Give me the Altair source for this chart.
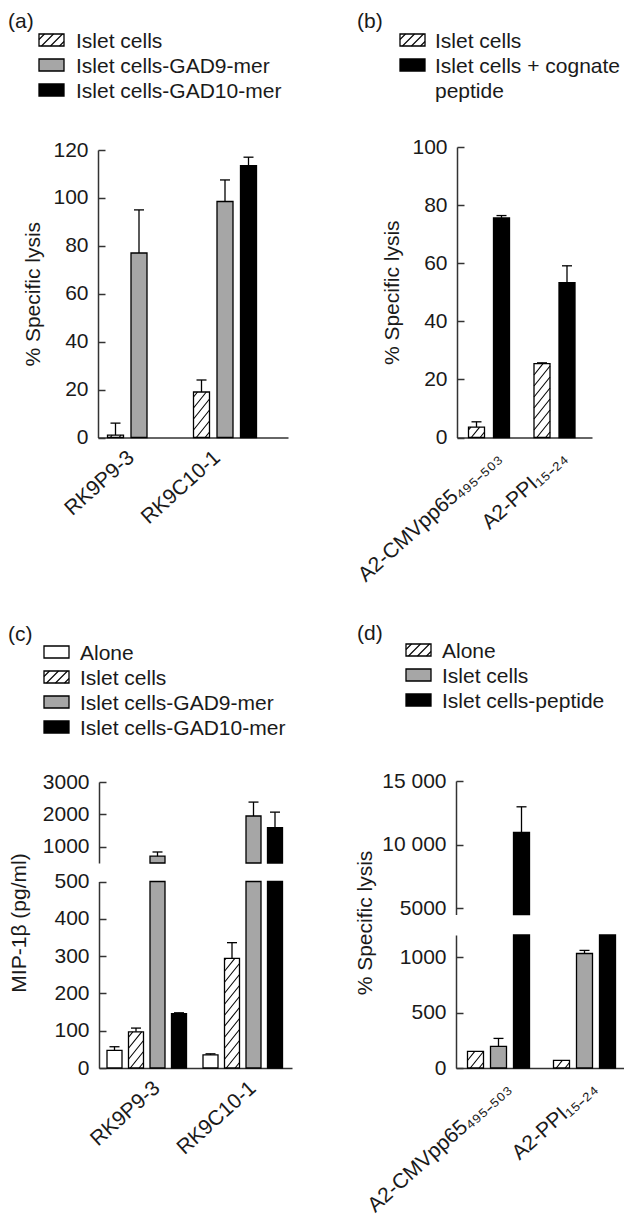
import json
import altair as alt
import pandas as pd

FONT = "Liberation Sans"
FS = 21
W, H = 616, 1212
M = 8  # page margin

# ---------------- data ----------------
a_groups = ["RK9P9-3", "RK9C10-1"]
a_series = ["Islet cells", "Islet cells-GAD9-mer", "Islet cells-GAD10-mer"]
a_values = [[1, 77, None], [19, 98.5, 113.5]]
a_errors = [[5, 18, None], [5, 9, 3.5]]

b_groups = ["A2-CMVpp65₄₉₅₋₅₀₃", "A2-PPI₁₅₋₂₄"]
b_series = ["Islet cells", "Islet cells + cognate peptide"]
b_values = [[3.6, 75.6], [25.4, 53.3]]
b_errors = [[1.8, 0.8], [0.3, 5.8]]

c_groups = ["RK9P9-3", "RK9C10-1"]
c_series = ["Alone", "Islet cells", "Islet cells-GAD9-mer", "Islet cells-GAD10-mer"]
c_values = [[47, 97, 710, 146], [35, 294, 1950, 1590]]
c_errors = [[10, 10, 130, 2], [3, 42, 430, 480]]

d_groups = ["A2-CMVpp65₄₉₅₋₅₀₃", "A2-PPI₁₅₋₂₄"]
d_series = ["Alone", "Islet cells", "Islet cells-peptide"]
d_values = [[150, 195, 10950], [68, 1033, 1250]]
d_errors = [[0, 72, 2020], [0, 28, 0]]

# ---------------- styles ----------------
a_kinds = ["hatch", "grey", "black"]
b_kinds = ["hatch", "black"]
c_kinds = ["white", "hatch", "grey", "black"]
d_kinds = ["hatch", "grey", "black"]

GREY = "#a6a6a6"
KIND_DOMAIN = ["hatch", "white", "grey", "black"]
KIND_RANGE = ["white", "white", GREY, "black"]
FILL = alt.Fill("kind:N", scale=alt.Scale(domain=KIND_DOMAIN, range=KIND_RANGE), legend=None)
INK = "#1a1a1a"
SW = 1.3
TICK = 7


def hatch(xl, xr, yb, yt, kx, ky, slope=1.25, step=11.0):
    """diagonal '/' lines clipped to a rectangle, returned in data units"""
    wp = (xr - xl) * kx
    hp = (yt - yb) * ky
    out = []
    c = -slope * wp + step * 0.5
    while c < hp:
        xa = max(0.0, -c / slope)
        xb = min(wp, (hp - c) / slope)
        if xb - xa > 0.4:
            out.append(dict(x=xl + xa / kx, x2=xl + xb / kx,
                            y=yb + (slope * xa + c) / ky, y2=yb + (slope * xb + c) / ky))
        c += step
    return out


layers = []


def add_panel(groups, series, kinds, values, errors, lay, segs, label_offset):
    first, slot, gstep, bw, ax0, ax1 = lay
    cap = 5.0
    rows = []
    for gi, g in enumerate(groups):
        for si, s in enumerate(series):
            v = values[gi][si]
            if v is None:
                continue
            e = errors[gi][si] or 0
            pos = gi * gstep + si * slot
            rows.append(dict(group=g, series=s, kind=kinds[si], value=v, err=e, top=v + e,
                             pos=pos, xl=pos - bw / 2, xr=pos + bw / 2, cl=pos - cap, cr=pos + cap))
    df = pd.DataFrame(rows)
    n = len(series)
    centers = [gi * gstep + (n - 1) / 2 * slot for gi in range(len(groups))]
    label_expr = json.dumps(groups, ensure_ascii=False) + f"[floor(datum.value / {gstep} + 0.01)]"

    for seg in segs:
        lo, hi = seg["domain"]
        plo, phi = seg["px"]
        ky = (plo - phi) / (hi - lo)
        xs = alt.Scale(domain=[ax0 - first, ax1 - first], range=[ax0 - M, ax1 - M], nice=False, zero=False)
        ys = alt.Scale(domain=[lo, hi], range=[plo - M, phi - M], clamp=True, nice=False, zero=False)
        if seg["x_axis"]:
            xaxis = alt.Axis(orient="bottom", offset=(plo - M) - H, values=centers, labelExpr=label_expr,
                             ticks=False, labelAngle=-42, labelAlign="right", labelBaseline="middle",
                             labelPadding=17, labelOffset=label_offset, labelLimit=0, title=None, grid=False)
        else:
            xaxis = None
        # axis line at the panel's left edge
        line_axis = alt.Axis(orient="left", offset=-(ax0 - M), values=seg["ticks"], title=None,
                             labels=False, ticks=False, domain=True, grid=False)
        # ticks pointing inwards + labels
        tick_axis = alt.Axis(orient="left", offset=-(ax0 + TICK - M), values=seg["ticks"],
                             title=seg.get("title"), domain=False, tickSize=TICK, labelPadding=10,
                             labelExpr=seg.get("fmt", "format(datum.value, 'd')"), grid=False,
                             titlePadding=seg.get("tpad", 10))

        if lo == 0:
            bdf = df
            edf = df[(df.err > 0) & (df.top <= hi)]
        else:
            bdf = df[df.value > lo]
            edf = df[(df.err > 0) & (df.value > lo)]

        bars = alt.Chart(bdf).mark_rect(stroke="black", strokeWidth=SW).encode(
            x=alt.X("xl:Q", scale=xs, axis=xaxis),
            x2="xr:Q",
            y=alt.Y("value:Q", scale=ys, axis=line_axis),
            y2=alt.datum(0),
            fill=FILL,
        )
        layers.append(bars)
        layers.append(alt.Chart(bdf).mark_rect(opacity=0).encode(
            x=alt.X("xl:Q", scale=xs, axis=None), x2="xr:Q",
            y=alt.Y("value:Q", scale=ys, axis=tick_axis), y2=alt.datum(0)))

        hrows = []
        for r in bdf[bdf.kind == "hatch"].itertuples():
            hrows += hatch(r.xl, r.xr, max(lo, 0), min(r.value, hi), 1.0, ky)
        if hrows:
            layers.append(alt.Chart(pd.DataFrame(hrows)).mark_rule(color="black", strokeWidth=1.1).encode(
                x=alt.X("x:Q", scale=xs, axis=None), x2="x2:Q",
                y=alt.Y("y:Q", scale=ys, axis=None), y2="y2:Q"))
        if len(edf):
            layers.append(alt.Chart(edf).mark_rule(color="black", strokeWidth=SW).encode(
                x=alt.X("pos:Q", scale=xs, axis=None),
                y=alt.Y("value:Q", scale=ys, axis=None), y2="top:Q"))
            layers.append(alt.Chart(edf).mark_rule(color="black", strokeWidth=SW).encode(
                x=alt.X("cl:Q", scale=xs, axis=None), x2="cr:Q",
                y=alt.Y("top:Q", scale=ys, axis=None)))


# panel (a)
add_panel(a_groups, a_series, a_kinds, a_values, a_errors,
          (115.5, 23.5, 86, 16, 98, 288),
          [dict(domain=[0, 120], px=[437.5, 150], ticks=[0, 20, 40, 60, 80, 100, 120],
                x_axis=True, title="% Specific lysis", tpad=9)], -8)
# panel (b)
add_panel(b_groups, b_series, b_kinds, b_values, b_errors,
          (476.5, 25, 65.5, 16, 457, 592),
          [dict(domain=[0, 100], px=[437.5, 147], ticks=[0, 20, 40, 60, 80, 100],
                x_axis=True, title="% Specific lysis", tpad=9)], 9)
# panel (c)
add_panel(c_groups, c_series, c_kinds, c_values, c_errors,
          (114.5, 21.5, 96, 15, 99, 292),
          [dict(domain=[500, 3000], px=[863, 782], ticks=[1000, 2000, 3000], x_axis=False),
           dict(domain=[0, 500], px=[1068, 881.5], ticks=[0, 100, 200, 300, 400, 500], x_axis=True)], 10)
# panel (d)
big_fmt = "datum.value >= 10000 ? replace(format(datum.value, ','), ',', ' ') : format(datum.value, 'd')"
add_panel(d_groups, d_series, d_kinds, d_values, d_errors,
          (475.5, 23, 86, 16, 456, 625),
          [dict(domain=[4500, 15000], px=[914.5, 781], ticks=[5000, 10000, 15000], x_axis=False, fmt=big_fmt),
           dict(domain=[0, 1200], px=[1068, 935], ticks=[0, 500, 1000], x_axis=True)], 9)

# ---------------- legends, panel letters, broken-axis titles (page-pixel layer) ----------------
PX = alt.Scale(domain=[0, W], range=[0, W], nice=False, zero=False)
PY = alt.Scale(domain=[0, H], range=[0, H], nice=False, zero=False)


def wrap(s, width=22):
    if len(s) <= width:
        return s
    cut = s.rfind(" ", 0, width)
    return s[:cut] + "\n" + s[cut + 1:]


legend_specs = [
    (a_series, a_kinds, 39, 40, 76),
    (b_series, b_kinds, 400, 40, 435),
    (c_series, c_kinds, 44, 652, 80),
    (d_series, d_kinds, 406, 650, 442),
]
sw_rows, sw_hatch, lg_text = [], [], []
for series, kinds, sx, y0, tx in legend_specs:
    for i, (s, k) in enumerate(zip(series, kinds)):
        yc = y0 + i * 25
        sw_rows.append(dict(x=sx - M, x2=sx + 25 - M, y=yc - 6 - M, y2=yc + 6 - M, kind=k))
        if k == "hatch":
            sw_hatch += hatch(sx - M, sx + 25 - M, yc + 6 - M, yc - 6 - M, 1.0, -1.0, slope=1.0, step=9.0)
        lg_text.append(dict(x=tx - M, y=yc + 7.5 - M, label=wrap(s)))

layers.append(alt.Chart(pd.DataFrame(sw_rows)).mark_rect(stroke="black", strokeWidth=SW).encode(
    x=alt.X("x:Q", scale=PX, axis=None), x2="x2:Q",
    y=alt.Y("y:Q", scale=PY, axis=None), y2="y2:Q", fill=FILL))
layers.append(alt.Chart(pd.DataFrame(sw_hatch)).mark_rule(color="black", strokeWidth=1.1).encode(
    x=alt.X("x:Q", scale=PX, axis=None), x2="x2:Q",
    y=alt.Y("y:Q", scale=PY, axis=None), y2="y2:Q"))
layers.append(alt.Chart(pd.DataFrame(lg_text)).mark_text(
    font=FONT, fontSize=FS, align="left", baseline="alphabetic", lineBreak="\n", lineHeight=25, color=INK).encode(
    x=alt.X("x:Q", scale=PX, axis=None), y=alt.Y("y:Q", scale=PY, axis=None), text="label:N"))

letters = pd.DataFrame([
    dict(x=8 - M, y=28 - M, label="(a)"),
    dict(x=357 - M, y=28 - M, label="(b)"),
    dict(x=8 - M, y=641 - M, label="(c)"),
    dict(x=357 - M, y=640 - M, label="(d)"),
])
layers.append(alt.Chart(letters).mark_text(font=FONT, fontSize=FS, align="left", baseline="alphabetic",
                                           color=INK).encode(
    x=alt.X("x:Q", scale=PX, axis=None), y=alt.Y("y:Q", scale=PY, axis=None), text="label:N"))

ytitles = pd.DataFrame([
    dict(x=20 - M, y=923 - M, label="MIP-1β (pg/ml)"),
    dict(x=366 - M, y=923 - M, label="% Specific lysis"),
])
layers.append(alt.Chart(ytitles).mark_text(font=FONT, fontSize=FS, angle=270, align="center",
                                           baseline="middle", color=INK).encode(
    x=alt.X("x:Q", scale=PX, axis=None), y=alt.Y("y:Q", scale=PY, axis=None), text="label:N"))

chart = alt.layer(*layers).resolve_scale(x="independent", y="independent").properties(
    width=W, height=H, autosize=alt.AutoSizeParams(type="none"), padding=0
).configure_view(stroke=None).configure_axis(
    labelFont=FONT, labelFontSize=FS, labelColor=INK, titleFont=FONT, titleFontSize=FS,
    titleFontWeight="normal", titleColor=INK, domainColor="#333333", domainWidth=1.5,
    tickColor="#333333", tickWidth=1.5, grid=False
)

chart.save("out.html", embed_options={"renderer": "svg", "actions": False})
